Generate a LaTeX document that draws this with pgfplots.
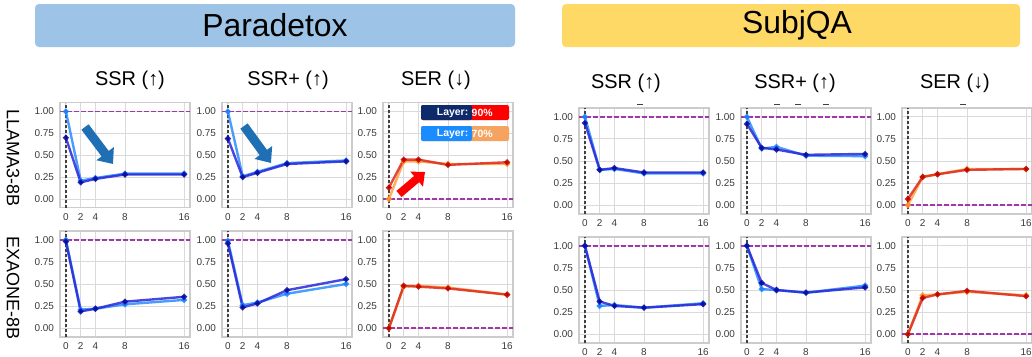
\documentclass[border=0pt]{standalone}
\usepackage{pgfplots}
\pgfplotsset{compat=1.18}
\usepackage{fontspec}
\setmainfont{Liberation Sans}
\usetikzlibrary{arrows.meta}
\definecolor{dkblue}{HTML}{2828D8}
\definecolor{dkblueM}{HTML}{0A0AA0}
\definecolor{ltblue}{HTML}{2A8CFF}
\definecolor{ltblueM}{HTML}{1A80FF}
\definecolor{redL}{HTML}{DC2A1E}
\definecolor{redM}{HTML}{C00000}
\definecolor{orgL}{HTML}{FFA040}
\definecolor{orgM}{HTML}{FF9020}
\definecolor{refpurple}{HTML}{A436AC}
\definecolor{gridc}{HTML}{DADADA}
\definecolor{framec}{HTML}{CCCCCC}
\definecolor{tickc}{HTML}{3A3A3A}
\definecolor{boxblue}{HTML}{9DC3E6}
\definecolor{boxyellow}{HTML}{FFD966}
\definecolor{arrowblue}{HTML}{1F6FB4}
\definecolor{navy}{HTML}{0D2A6B}
\definecolor{sandy}{HTML}{F4A460}
\definecolor{legblue}{HTML}{1A8CFF}

\newcommand{\tickfont}{\fontsize{10}{12}\selectfont}

\pgfplotsset{
  panel/.style={
    scale only axis, width=130bp, anchor=south west,
    xmin=-0.8, xmax=16.8, ymin=-0.1, ymax=1.1,
    xtick={0,2,4,8,16}, ytick={0,0.25,0.5,0.75,1},
    /pgf/number format/assume math mode=true,
    grid=major, major grid style={gridc, line width=0.9bp},
    axis line style={framec, line width=1.1bp},
    major tick length=0pt,
    every tick label/.append style={font=\tickfont, text=tickc},
    yticklabel={\pgfmathprintnumber[fixed, fixed zerofill, precision=2, assume math mode=true]{\tick}},
    xticklabel={\pgfmathprintnumber[assume math mode=true]{\tick}},
    every x tick label/.append style={yshift=-2bp},
    every y tick label/.append style={xshift=-2.5bp},
  },
  ssrseventy/.style={ltblue, line width=2.4bp, opacity=0.85, mark=*, mark size=1.6bp, mark options={fill=ltblueM, draw=ltblueM}},
  ssrninety/.style={dkblue, line width=2.4bp, opacity=0.85, mark=*, mark size=1.6bp, mark options={fill=dkblueM, draw=dkblueM}},
  serseventy/.style={orgL, line width=2.4bp, opacity=0.85, mark=*, mark size=1.6bp, mark options={fill=orgM, draw=orgM}},
  serninety/.style={redL, line width=2.4bp, opacity=0.85, mark=*, mark size=1.6bp, mark options={fill=redM, draw=redM}},
}

% #1 x left, #2 y bottom (down positive), #3 height, #4 ref y, #5 style prefix, #6 data 70%, #7 data 90%
\newcommand{\panel}[7]{%
\begin{axis}[panel, at={(#1bp,-#2bp)}, height=#3bp]
\addplot[refpurple, line width=1.7bp, dash pattern=on 4.5bp off 2.5bp, forget plot] coordinates {(-0.8,#4) (16.8,#4)};
\addplot[black!75, line width=1.4bp, dash pattern=on 3bp off 2bp, forget plot] coordinates {(0,-0.1) (0,1.1)};
\addplot[#5seventy] coordinates {#6};
\addplot[#5ninety] coordinates {#7};
\end{axis}}

\begin{document}
\begin{tikzpicture}[x=1bp,y=1bp]
% titles
\fill[boxblue, rounded corners=4bp] (35,-4) rectangle (515,-47);
\node[font=\fontsize{32}{36}\selectfont] at (275,-25.5) {Paradetox};
\fill[boxyellow, rounded corners=4bp] (562,-4) rectangle (1020,-47);
\node[font=\fontsize{32}{36}\selectfont] at (797,-25.5) {SubjQA};

% column headers
\foreach \xx/\tt in {130/{SSR (↑)}, 288/{SSR+ (↑)}, 436/{SER (↓)}}
  \node[font=\fontsize{20}{24}\selectfont] at (\xx,-80) {\tt};
\foreach \xx/\tt in {626/{SSR (↑)}, 795/{SSR+ (↑)}, 955/{SER (↓)}}
  \node[font=\fontsize{20}{24}\selectfont] at (\xx,-83) {\tt};

% row labels
\node[rotate=-90, font=\fontsize{18}{20}\selectfont] at (13,-158) {LLAMA3-8B};
\node[rotate=-90, font=\fontsize{18}{20}\selectfont] at (13,-288) {EXAONE-8B};

% ---------- Paradetox, LLAMA3-8B
\panel{60}{207.75}{105}{1}{ssr}{(0,1.00)(2,0.21)(4,0.24)(8,0.29)(16,0.29)}{(0,0.70)(2,0.19)(4,0.23)(8,0.28)(16,0.28)}
\panel{222}{207.75}{105}{1}{ssr}{(0,1.00)(2,0.26)(4,0.31)(8,0.41)(16,0.44)}{(0,0.69)(2,0.25)(4,0.30)(8,0.40)(16,0.43)}
\panel{383}{207.75}{105}{0}{ser}{(0,0.00)(2,0.43)(4,0.43)(8,0.40)(16,0.40)}{(0,0.13)(2,0.45)(4,0.45)(8,0.39)(16,0.42)}
% ---------- Paradetox, EXAONE-8B
\panel{60}{337}{106}{1}{ssr}{(0,1.00)(2,0.21)(4,0.22)(8,0.27)(16,0.32)}{(0,0.98)(2,0.19)(4,0.22)(8,0.30)(16,0.355)}
\panel{222}{337}{106}{1}{ssr}{(0,0.99)(2,0.26)(4,0.29)(8,0.39)(16,0.50)}{(0,0.96)(2,0.235)(4,0.28)(8,0.43)(16,0.555)}
\panel{383}{337}{106}{0}{ser}{(0,0.00)(2,0.47)(4,0.48)(8,0.46)(16,0.38)}{(0,0.00)(2,0.48)(4,0.47)(8,0.45)(16,0.38)}
% ---------- SubjQA, LLAMA3-8B
\panel{579}{214}{106}{1}{ssr}{(0,1.00)(2,0.40)(4,0.41)(8,0.36)(16,0.36)}{(0,0.93)(2,0.40)(4,0.42)(8,0.37)(16,0.37)}
\panel{741}{214}{106}{1}{ssr}{(0,1.00)(2,0.64)(4,0.66)(8,0.56)(16,0.555)}{(0,0.92)(2,0.65)(4,0.63)(8,0.57)(16,0.58)}
\panel{902}{214}{106}{0}{ser}{(0,0.00)(2,0.32)(4,0.35)(8,0.41)(16,0.41)}{(0,0.07)(2,0.32)(4,0.35)(8,0.40)(16,0.41)}
% ---------- SubjQA, EXAONE-8B
\panel{579}{343}{106}{1}{ssr}{(0,1.00)(2,0.32)(4,0.33)(8,0.30)(16,0.35)}{(0,1.00)(2,0.37)(4,0.32)(8,0.30)(16,0.34)}
\panel{741}{343}{106}{1}{ssr}{(0,1.00)(2,0.51)(4,0.50)(8,0.47)(16,0.55)}{(0,1.00)(2,0.58)(4,0.50)(8,0.47)(16,0.53)}
\panel{902}{343}{106}{0}{ser}{(0,0.00)(2,0.44)(4,0.45)(8,0.48)(16,0.44)}{(0,0.00)(2,0.41)(4,0.45)(8,0.49)(16,0.43)}

% annotation arrows
\draw[arrowblue, line width=9bp, -{Triangle[width=21bp,length=13bp]}] (85,-127) -- (113,-164);
\draw[arrowblue, line width=9bp, -{Triangle[width=21bp,length=13bp]}] (244,-126) -- (271,-163);
\draw[red, line width=8bp, -{Triangle[width=19bp,length=11bp]}] (399,-194) -- (425,-172);

% legend boxes
\fill[red, rounded corners=2bp] (421,-105) rectangle (509,-120);
\fill[navy, rounded corners=2bp] (421,-105) rectangle (472,-120);
\fill[navy] (466,-105) rectangle (470,-120);
\fill[sandy, rounded corners=2bp] (421,-126) rectangle (509,-141);
\fill[legblue, rounded corners=2bp] (421,-126) rectangle (472,-141);
\fill[legblue] (466,-126) rectangle (470,-141);
\node[anchor=east, text=white, font=\bfseries\fontsize{10.5}{12}\selectfont, inner sep=0pt] at (468.5,-112.5) {Layer:};
\node[anchor=west, text=white, font=\bfseries\fontsize{10.5}{12}\selectfont, inner sep=0pt] at (471.5,-112.5) {90\%};
\node[anchor=east, text=white, font=\bfseries\fontsize{10.5}{12}\selectfont, inner sep=0pt] at (468.5,-133.5) {Layer:};
\node[anchor=west, text=white, font=\bfseries\fontsize{10.5}{12}\selectfont, inner sep=0pt] at (471.5,-133.5) {70\%};

% small artefact dashes above SubjQA panels
\foreach \xx in {640,777,798,826,963}
  \draw[black!75, line width=1bp] (\xx-3,-104) -- (\xx+3,-104);

\pgfresetboundingbox
\useasboundingbox (0,0) rectangle (1032,-356);
\end{tikzpicture}
\end{document}
